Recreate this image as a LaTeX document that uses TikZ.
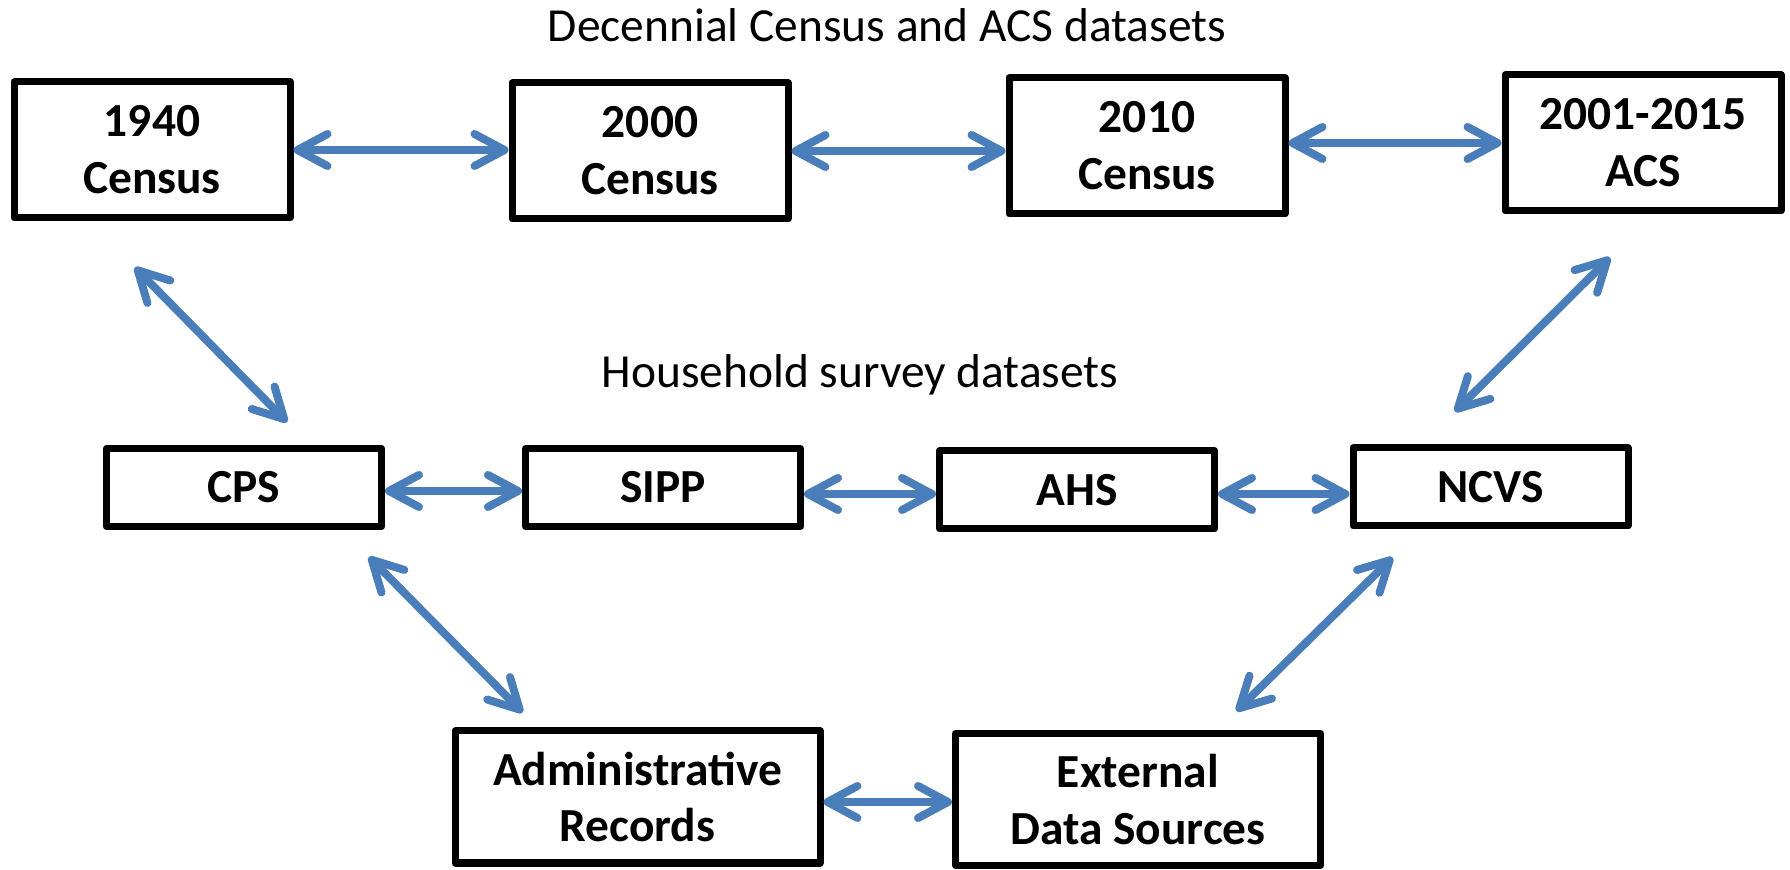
\documentclass[tikz,border=0pt]{standalone}
\usepackage{fontspec}
\setmainfont{Carlito}
\usepackage{tikz}
\usepackage{xcolor}
\usetikzlibrary{arrows.meta}

\definecolor{arrowblue}{RGB}{74,126,187}

\begin{document}
\begin{tikzpicture}[
    databox/.style={draw=black,line width=0.07cm,line join=round,fill=white,inner sep=0pt,align=center,font=\fontsize{13.5}{16.2}\selectfont\bfseries},
    topbox/.style={databox,minimum width=2.76cm,minimum height=1.36cm},
    midbox/.style={databox,minimum width=2.75cm,minimum height=0.78cm},
    lowbox/.style={databox,minimum width=3.65cm,minimum height=1.32cm},
    heading/.style={anchor=base,font=\fontsize{13.5}{16.2}\selectfont},
    link/.style={arrowblue,line width=0.08cm,{Straight Barb[length=3mm,width=3.2mm,round]}-{Straight Barb[length=3mm,width=3.2mm,round]}}
]

\useasboundingbox (0,0) rectangle (17.9,8.69);

% census and ACS
\node[heading] (toptitle) at (8.87,8.27) {Decennial Census and ACS datasets};
\node[topbox] (c1940) at (1.52,7.19) {1940\\Census};
\node[topbox] (c2000) at (6.50,7.18) {2000\\Census};
\node[topbox] (c2010) at (11.47,7.23) {2010\\Census};
\node[topbox] (acs) at (16.43,7.26) {2001-2015\\ACS};

% household surveys
\node[heading] (midtitle) at (8.60,4.81) {Household survey datasets};
\node[midbox] (cps) at (2.44,3.815) {CPS};
\node[midbox] (sipp) at (6.63,3.815) {SIPP};
\node[midbox] (ahs) at (10.77,3.79) {AHS};
\node[midbox] (ncvs) at (14.905,3.82) {NCVS};

% other sources
\node[lowbox] (admin) at (6.375,0.72) {Administrative\\Records};
\node[lowbox] (ext) at (11.38,0.695) {External\\Data Sources};

\draw[link] (c1940.east) -- (c1940.east -| c2000.west);
\draw[link] (c2000.east) -- (c2000.east -| c2010.west);
\draw[link] (acs.west -| c2010.east) -- (acs.west);

\draw[link] ([yshift=-0.035cm]cps.east) -- ([yshift=-0.035cm]cps.east -| sipp.west);
\draw[link] ([yshift=-0.065cm]sipp.east) -- ([yshift=-0.065cm]sipp.east -| ahs.west);
\draw[link] ([yshift=-0.04cm]ahs.east) -- ([yshift=-0.04cm]ahs.east -| ncvs.west);

\draw[link] ([yshift=-0.05cm]admin.east) -- ([yshift=-0.05cm]admin.east -| ext.west);

\draw[link] ([xshift=-0.17cm,yshift=-0.46cm]c1940.south) -- ([xshift=0.43cm,yshift=0.23cm]cps.north);
\draw[link] ([xshift=-0.33cm,yshift=-0.43cm]acs.south) -- ([xshift=-0.355cm,yshift=0.33cm]ncvs.north);
\draw[link] ([xshift=-0.16cm,yshift=-0.27cm]cps.south east) -- ([xshift=0.71cm,yshift=0.15cm]admin.north west);
\draw[link] ([xshift=0.43cm,yshift=-0.28cm]ncvs.south west) -- ([xshift=-0.875cm,yshift=0.19cm]ext.north east);

\end{tikzpicture}
\end{document}
